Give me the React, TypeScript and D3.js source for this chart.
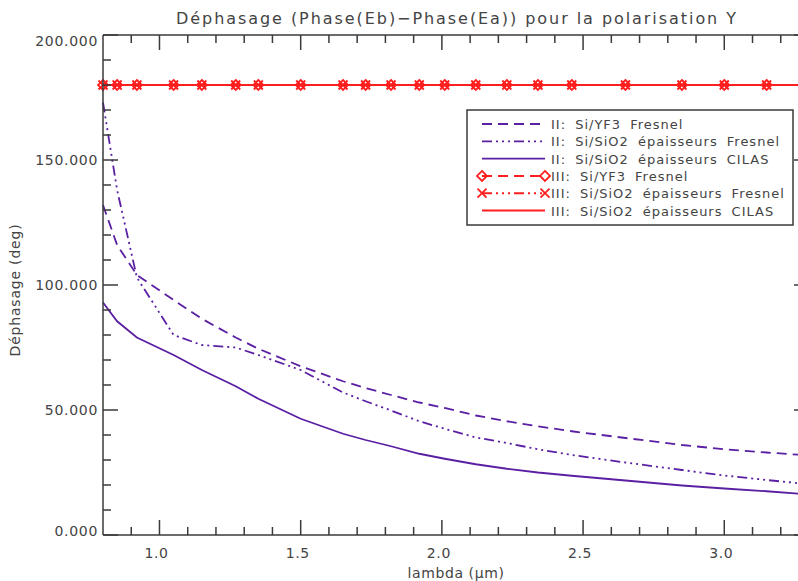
import React from 'react';
import * as d3 from 'd3';

// ---- data ----
const lambda = [0.8, 0.85, 0.92, 1.05, 1.15, 1.27, 1.35, 1.5, 1.65, 1.73, 1.82, 1.92, 2.01, 2.12, 2.23, 2.34, 2.46, 2.65, 2.85, 3.0, 3.15, 3.3];

const iiYF3Fresnel = [132, 116, 104, 94, 86.5, 79, 74.5, 67.5, 61.5, 58.8, 56, 53, 50.8, 47.8, 45.5, 43.5, 41.5, 38.8, 36, 34.3, 33, 31.8];
const iiSiO2Fresnel = [173, 138, 103, 80, 76, 75, 72, 66, 57, 53.5, 49.8, 45.5, 42.5, 39, 36.8, 34.3, 32, 29, 26, 23.8, 22, 20.3];
const iiSiO2Cilas = [93, 85.5, 79, 72, 66, 59.5, 54.5, 46.5, 40.5, 38, 35.5, 32.5, 30.5, 28.3, 26.5, 25, 23.7, 21.8, 19.8, 18.6, 17.5, 16.2];
const iiiYF3Fresnel = [180, 180, 180, 180, 180, 180, 180, 180, 180, 180, 180, 180, 180, 180, 180, 180, 180, 180, 180, 180, 180, 180];
const iiiSiO2Fresnel = [180, 180, 180, 180, 180, 180, 180, 180, 180, 180, 180, 180, 180, 180, 180, 180, 180, 180, 180, 180, 180, 180];
const iiiSiO2Cilas = [180, 180, 180, 180, 180, 180, 180, 180, 180, 180, 180, 180, 180, 180, 180, 180, 180, 180, 180, 180, 180, 180];

const xMajorTicks = [1.0, 1.5, 2.0, 2.5, 3.0];
const xTickLabels = ['1.0', '1.5', '2.0', '2.5', '3.0'];
const xMinorTicks = [0.9, 1.1, 1.2, 1.3, 1.4, 1.6, 1.7, 1.8, 1.9, 2.1, 2.2, 2.3, 2.4, 2.6, 2.7, 2.8, 2.9, 3.1, 3.2];
const yMajorTicks = [0, 50, 100, 150, 200];
const yTickLabels = ['0.000', '50.000', '100.000', '150.000', '200.000'];
const yMinorTicks = [10, 20, 30, 40, 60, 70, 80, 90, 110, 120, 130, 140, 160, 170, 180, 190];

const legendLabels = [
  'II: Si/YF3 Fresnel',
  'II: Si/SiO2 épaisseurs Fresnel',
  'II: Si/SiO2 épaisseurs CILAS',
  'III: Si/YF3 Fresnel',
  'III: Si/SiO2 épaisseurs Fresnel',
  'III: Si/SiO2 épaisseurs CILAS',
];

const PURPLE = '#5a1fa3';
const RED = '#ff1f1f';
const AXIS = '#3a3a3a';
const TEXT = '#444';
const FONT = 'DejaVu Sans, sans-serif';

const DASH = '10,6';
const DASH3DOT = '10,4,2,4,2,4,2,4';

const W = 798;
const H = 581;
const L = 103, R = 809, T = 35, B = 535;

export default function App() {
  const x = d3.scaleLinear().domain([0.8, 3.3]).range([L, R]);
  const y = d3.scaleLinear().domain([0, 200]).range([B, T]);
  const line = (vals: number[]) =>
    d3.line<number>().x((_, i) => x(lambda[i])).y((v) => y(v))(vals) as string;

  const series = [
    { vals: iiYF3Fresnel, color: PURPLE, dash: DASH, marker: '' },
    { vals: iiSiO2Fresnel, color: PURPLE, dash: DASH3DOT, marker: '' },
    { vals: iiSiO2Cilas, color: PURPLE, dash: '', marker: '' },
    { vals: iiiYF3Fresnel, color: RED, dash: DASH, marker: 'diamond' },
    { vals: iiiSiO2Fresnel, color: RED, dash: DASH3DOT, marker: 'x' },
    { vals: iiiSiO2Cilas, color: RED, dash: '', marker: '' },
  ];

  const marker = (kind: string, cx: number, cy: number, color: string, key: string) => {
    if (kind === 'diamond') {
      const s = 5;
      return (
        <path key={key} d={`M${cx},${cy - s}L${cx + s},${cy}L${cx},${cy + s}L${cx - s},${cy}Z`} fill="none" stroke={color} strokeWidth={1.8} />
      );
    }
    if (kind === 'x') {
      const s = 4.5;
      return (
        <path key={key} d={`M${cx - s},${cy - s}L${cx + s},${cy + s}M${cx - s},${cy + s}L${cx + s},${cy - s}`} fill="none" stroke={color} strokeWidth={1.8} />
      );
    }
    return null;
  };

  const legendX0 = 482, legendX1 = 545, legendTextX = 551;
  const legendY0 = 124, legendDY = 17.3;

  return (
    <svg width={W} height={H} style={{ position: 'absolute', left: 0, top: 0, background: '#fff' }} fontFamily={FONT}>
      <rect x={0} y={0} width={W} height={H} fill="#fff" />
      {/* title */}
      <text x={(L + R) / 2} y={24} textAnchor="middle" fontSize={16} fill={TEXT} textLength={560} lengthAdjust="spacing">
        Déphasage (Phase(Eb)−Phase(Ea)) pour la polarisation Y
      </text>

      {/* curves */}
      <g fill="none">
        {series.map((s, i) => (
          <path key={i} d={line(s.vals)} stroke={s.color} strokeWidth={s.color === RED ? 2 : 1.8} strokeDasharray={s.dash || undefined} />
        ))}
        {series.map((s, i) =>
          s.marker ? s.vals.map((v, j) => marker(s.marker, x(lambda[j]), y(v), s.color, `m${i}-${j}`)) : null
        )}
      </g>

      {/* axes box */}
      <g stroke={AXIS} strokeWidth={1.5} fill="none">
        <line x1={L} y1={T} x2={L} y2={B} />
        <line x1={R} y1={T} x2={R} y2={B} />
        <line x1={L} y1={B} x2={R} y2={B} />
        <line x1={L} y1={T} x2={R} y2={T} />
        {xMajorTicks.map((t) => (
          <g key={'xM' + t}>
            <line x1={x(t)} x2={x(t)} y1={B} y2={B - 15} />
            <line x1={x(t)} x2={x(t)} y1={T} y2={T + 15} />
          </g>
        ))}
        {xMinorTicks.map((t) => (
          <g key={'xm' + t}>
            <line x1={x(t)} x2={x(t)} y1={B} y2={B - 8} />
            <line x1={x(t)} x2={x(t)} y1={T} y2={T + 8} />
          </g>
        ))}
        {yMajorTicks.map((t) => (
          <g key={'yM' + t}>
            <line x1={L} x2={L + 15} y1={y(t)} y2={y(t)} />
            <line x1={R} x2={R - 15} y1={y(t)} y2={y(t)} />
          </g>
        ))}
        {yMinorTicks.map((t) => (
          <g key={'ym' + t}>
            <line x1={L} x2={L + 8} y1={y(t)} y2={y(t)} />
            <line x1={R} x2={R - 8} y1={y(t)} y2={y(t)} />
          </g>
        ))}
      </g>

      {/* tick labels */}
      <g fontSize={14} fill={TEXT}>
        {xMajorTicks.map((t, i) => (
          <text key={'xl' + t} x={x(t) - 3} y={558} textAnchor="middle" letterSpacing={0.6}>{xTickLabels[i]}</text>
        ))}
        {yMajorTicks.map((t, i) => (
          <text key={'yl' + t} x={98} y={Math.min(Math.max(y(t), 41), 531) + 5} textAnchor="end" letterSpacing={0.7}>{yTickLabels[i]}</text>
        ))}
      </g>

      {/* axis titles */}
      <text x={(L + R) / 2} y={578} textAnchor="middle" fontSize={14} fill={TEXT} letterSpacing={0.6}>lambda (μm)</text>
      <text transform={`translate(20,${(T + B) / 2 + 5}) rotate(-90)`} textAnchor="middle" fontSize={14} fill={TEXT} letterSpacing={0.8}>Déphasage (deg)</text>

      {/* legend */}
      <rect x={467} y={110} width={326} height={115} fill="#fff" stroke={AXIS} strokeWidth={1.5} />
      {series.map((s, i) => {
        const ly = legendY0 + i * legendDY;
        return (
          <g key={'lg' + i}>
            <line x1={legendX0} x2={legendX1} y1={ly} y2={ly} stroke={s.color} strokeWidth={s.color === RED ? 2 : 1.8} strokeDasharray={s.dash || undefined} />
            {s.marker ? marker(s.marker, legendX0, ly, s.color, 'lm0' + i) : null}
            {s.marker ? marker(s.marker, legendX1, ly, s.color, 'lm1' + i) : null}
            <text x={legendTextX} y={ly + 5} fontSize={13} fill={TEXT} letterSpacing={1} wordSpacing={4}>{legendLabels[i]}</text>
          </g>
        );
      })}
    </svg>
  );
}
